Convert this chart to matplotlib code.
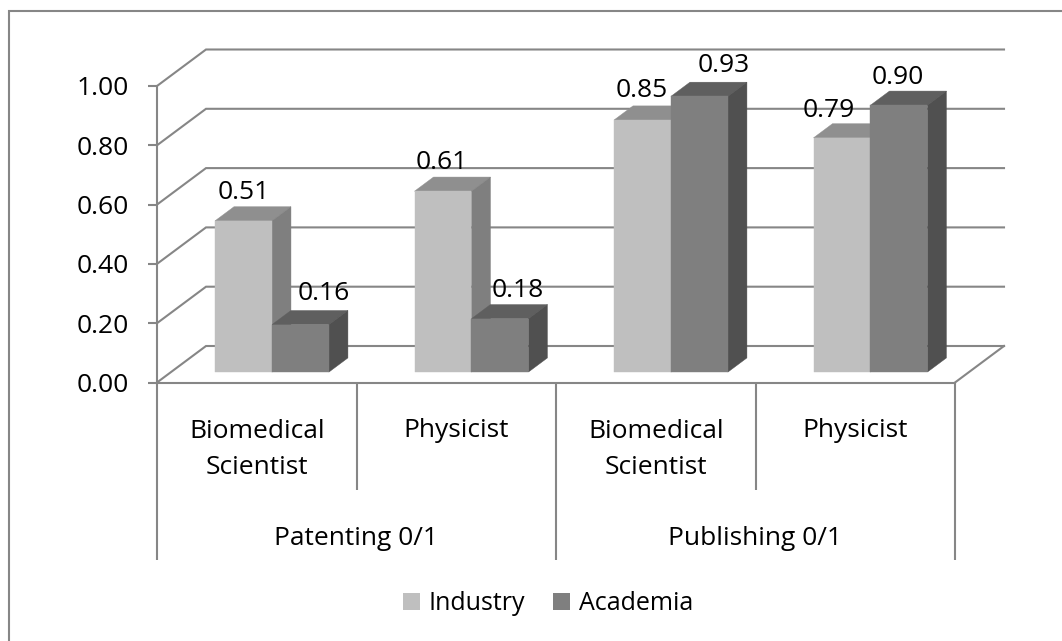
import matplotlib
matplotlib.use("Agg")
import matplotlib.pyplot as plt
from matplotlib.lines import Line2D
from matplotlib.patches import Polygon, Patch

plt.rcParams['font.family'] = ['Open Sans', 'DejaVu Sans']

series_names = ['Industry', 'Academia']
roles = ['Biomedical\nScientist', 'Physicist', 'Biomedical\nScientist', 'Physicist']
measures = ['Patenting 0/1', 'Publishing 0/1']
industry = [0.51, 0.61, 0.85, 0.79]
academia = [0.16, 0.18, 0.93, 0.90]
y_ticks = [0.0, 0.2, 0.4, 0.6, 0.8, 1.0]

W, H = 1062, 641
GRAY = '#868686'
FS = 19
fig = plt.figure(figsize=(W / 100, H / 100), dpi=100)
ax = fig.add_axes([157 / W, 1 - 382.5 / H, 798 / W, 296.5 / H])
ax.set_xlim(0, 4)
ax.set_ylim(0, 1)
ax.patch.set_visible(False)

# projection of the pseudo-3D depth
PXX = 798 / 4
PXY = 296.5
DX = 49 / PXX
DY = 36.5 / PXY


def project(x, v, d):
    return (x + d * DX, v + d * DY)


# walls
for v in y_ticks:
    ax.plot([0, DX, 4 + DX], [v, v + DY, v + DY], color=GRAY, lw=1.5, clip_on=False,
            solid_joinstyle='miter', zorder=1)
ax.plot([4, 4 + DX], [0, DY], color=GRAY, lw=1.5, clip_on=False, zorder=1)

# bars
GROUP_OFF, BAR_W = 0.2206, 0.2855
D0, D1 = 14 / 49, 33 / 49
COLS = [('#BFBFBF', '#8F8F8F', '#7F7F7F'), ('#7F7F7F', '#5F5F5F', '#505050')]
LABEL_OFF = [[(0, 28), (-1, 29), (-1, 29.5), (-13, 27)],
             [(23, 31), (18, 28), (24, 31), (-1, 28)]]

for s, vals in enumerate([industry, academia]):
    front, top, side = COLS[s]
    for i, v in enumerate(vals):
        x0 = i + GROUP_OFF + s * BAR_W
        x1 = x0 + BAR_W
        z = 3 + s + i * 2
        ax.add_patch(Polygon([project(x0, v, D0), project(x1, v, D0), project(x1, v, D1), project(x0, v, D1)],
                             fc=top, ec=top, lw=0.3, clip_on=False, zorder=z))
        ax.add_patch(Polygon([project(x1, 0, D0), project(x1, v, D0), project(x1, v, D1), project(x1, 0, D1)],
                             fc=side, ec=side, lw=0.3, clip_on=False, zorder=z))
        ax.add_patch(Polygon([project(x0, 0, D0), project(x1, 0, D0), project(x1, v, D0), project(x0, v, D0)],
                             fc=front, ec=front, lw=0.3, clip_on=False, zorder=z + 0.1))
        fx, fy = project((x0 + x1) / 2, v, D0)
        ox, oy = LABEL_OFF[s][i]
        ax.annotate(f'{v:.2f}', (fx, fy), xytext=(ox, oy), textcoords='offset pixels',
                    ha='center', va='center', fontsize=FS, color='black', zorder=20,
                    annotation_clip=False)

# axes
for k in ('top', 'right'):
    ax.spines[k].set_visible(False)
for k in ('left', 'bottom'):
    ax.spines[k].set_color(GRAY)
    ax.spines[k].set_linewidth(1.5)
    ax.spines[k].set_zorder(2)
ax.set_yticks(y_ticks, [f'{v:.2f}' for v in y_ticks], fontsize=FS, color='black')
ax.tick_params(axis='y', length=6.5, width=1.5, color=GRAY, pad=13.5)
ax.set_xticks([0, 2, 4], ['', '', ''])
ax.set_xticks([1, 3], minor=True)
ax.tick_params(axis='x', which='major', length=177 * 0.72, width=1.5, color=GRAY)
ax.tick_params(axis='x', which='minor', length=107 * 0.72, width=1.5, color=GRAY)

# two-level category labels (baseline anchored on the last line)
for i, r in enumerate(roles):
    drop = 474 - 382.5 if '\n' in r else 437 - 382.5
    ax.annotate(r, (i + 0.5, 0), xytext=(0, -drop), textcoords='offset pixels',
                ha='center', va='baseline', fontsize=FS, color='black', linespacing=1.6,
                annotation_clip=False)
for i, m in enumerate(measures):
    ax.annotate(m, (i * 2 + 1, 0), xytext=(0, -(545 - 382.5)), textcoords='offset pixels',
                ha='center', va='baseline', fontsize=FS, color='black', annotation_clip=False)

# legend
handles = [Patch(fc=COLS[0][0], label=series_names[0]), Patch(fc=COLS[1][0], label=series_names[1])]
fig.legend(handles=handles, loc='center', bbox_to_anchor=(548 / W, 1 - 604 / H), ncol=2, frameon=False,
           fontsize=18, handlelength=0.68, handleheight=0.68, handletextpad=0.34, columnspacing=1.15,
           borderpad=0, borderaxespad=0)

# chart border: only the left and top edges fall inside the picture
fig.add_artist(Line2D([9 / W, 9 / W, 1], [0, 1 - 11 / H, 1 - 11 / H], transform=fig.transFigure,
                      color=GRAY, lw=1.5, solid_joinstyle='miter'))

fig.savefig('out.png', dpi=100)
